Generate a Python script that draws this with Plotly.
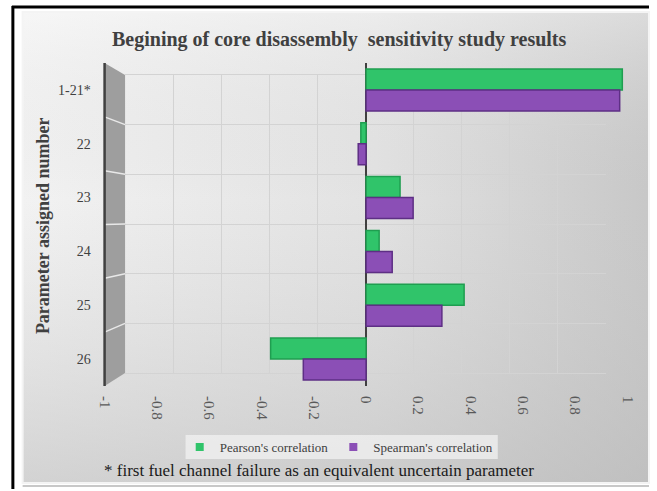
import plotly.graph_objects as go

W, H = 657, 491

categories = ["1-21*", "22", "23", "24", "25", "26"]
pearson = [0.98, -0.02, 0.13, 0.05, 0.375, -0.365]
spearman = [0.97, -0.03, 0.18, 0.10, 0.29, -0.24]
x_ticks = [-1, -0.8, -0.6, -0.4, -0.2, 0, 0.2, 0.4, 0.6, 0.8, 1]
x_tick_labels = ["-1", "-0.8", "-0.6", "-0.4", "-0.2", "0", "0.2", "0.4", "0.6", "0.8", "1"]
series_names = ["Pearson's correlation", "Spearman's correlation"]
series_colors = ["#30c46a", "#8b4fb6"]
series_lines = ["#1f9e50", "#5e2f85"]

SERIF = "Liberation Serif, Times New Roman, serif"


def px(x):
    return x / W


def py(y):
    return 1 - y / H


# plane geometry (pixels)
FRONT_L, FRONT_R, FRONT_T, FRONT_B = 99, 635, 63, 386
BACK_L, BACK_R, BACK_T, BACK_B = 120, 613, 75, 373

fig = go.Figure()

# background gradient panel (axis x/y, full paper, pixel units)
panel_x = [15, 657, 657, 15, 15]
panel_y = [12, 12, 483, 483, 12]
fig.add_trace(go.Scatter(
    x=panel_x, y=panel_y, mode="lines", fill="toself", line=dict(width=0),
    fillgradient=dict(type="horizontal", start=15, stop=657,
                      colorscale=[[0, "#f2f2f2"], [0.55, "#e2e2e2"], [1, "#c6c6c6"]]),
    hoverinfo="skip", showlegend=False, xaxis="x", yaxis="y"))
fig.add_trace(go.Scatter(
    x=panel_x, y=panel_y, mode="lines", fill="toself", line=dict(width=0),
    fillgradient=dict(type="vertical", start=12, stop=483,
                      colorscale=[[0, "rgba(255,255,255,0.35)"], [0.4, "rgba(200,200,200,0)"],
                                  [1, "rgba(185,185,185,0.55)"]]),
    hoverinfo="skip", showlegend=False, xaxis="x", yaxis="y"))

# back plane grid carrier
fig.add_trace(go.Scatter(x=[-1, 1], y=[0, 6], mode="markers", marker=dict(opacity=0),
                         hoverinfo="skip", showlegend=False, xaxis="x2", yaxis="y2"))

# bars on the front plane
for name, vals, col, lc in zip(series_names, [pearson, spearman], series_colors, series_lines):
    fig.add_trace(go.Bar(name=name, y=categories, x=vals, orientation="h", legendgroup=name,
                         showlegend=False,
                         marker=dict(color=col, line=dict(color=lc, width=1.5)),
                         xaxis="x3", yaxis="y3"))
# compact square legend entries
for name, col in zip(series_names, series_colors):
    fig.add_trace(go.Scatter(name=name, x=[None], y=[None], mode="markers", legendgroup=name,
                             marker=dict(symbol="square", size=8, color=col),
                             xaxis="x3", yaxis="y3"))

shapes = []
# outer black frame (top and left)
shapes.append(dict(type="line", xref="paper", yref="paper", x0=px(4), x1=px(657), y0=py(7), y1=py(7),
                   line=dict(color="black", width=3)))
shapes.append(dict(type="line", xref="paper", yref="paper", x0=px(5), x1=px(5), y0=py(6), y1=py(489),
                   line=dict(color="black", width=3)))
# panel edge
shapes.append(dict(type="rect", xref="paper", yref="paper", x0=px(15), x1=px(657), y0=py(483), y1=py(12),
                   line=dict(color="#f4f4f4", width=2)))
shapes.append(dict(type="line", xref="paper", yref="paper", x0=px(15), x1=px(657), y0=py(486), y1=py(486),
                   line=dict(color="#c8c8c8", width=2)))

# floor lines (back bottom -> front bottom)
for v in x_ticks:
    xb = 367 + v * (BACK_R - BACK_L) / 2
    xf = 367 + v * (FRONT_R - FRONT_L) / 2
    shapes.append(dict(type="line", xref="paper", yref="paper", x0=px(xb), x1=px(xf),
                       y0=py(BACK_B), y1=py(FRONT_B), line=dict(color="#d8d8d8", width=1), layer="below"))

# left side wall
shapes.append(dict(type="path", xref="paper", yref="paper",
                   path=f"M {px(FRONT_L)},{py(FRONT_T)} L {px(BACK_L)},{py(BACK_T)} "
                        f"L {px(BACK_L)},{py(BACK_B)} L {px(FRONT_L)},{py(FRONT_B)} Z",
                   fillcolor="#9e9e9e", line=dict(width=0)))
n = len(categories)
for k in range(1, n):
    yf = FRONT_T + k * (FRONT_B - FRONT_T) / n
    yb = BACK_T + k * (BACK_B - BACK_T) / n
    shapes.append(dict(type="line", xref="paper", yref="paper", x0=px(FRONT_L), x1=px(BACK_L),
                       y0=py(yf), y1=py(yb), line=dict(color="#e8e8e8", width=1.5)))
shapes.append(dict(type="line", xref="paper", yref="paper", x0=px(FRONT_L), x1=px(FRONT_L),
                   y0=py(FRONT_T), y1=py(FRONT_B), line=dict(color="#404040", width=2.5)))
# legend box
shapes.append(dict(type="rect", xref="paper", yref="paper", x0=px(182), x1=px(502), y0=py(459), y1=py(435),
                   fillcolor="rgba(242,242,242,0.75)", line=dict(width=0)))

annotations = [
    dict(text="<b>Begining of core disassembly  sensitivity study results</b>", xref="paper", yref="paper",
         x=px(340), y=py(40), showarrow=False, font=dict(family=SERIF, size=20, color="#404040"),
         xanchor="center", yanchor="middle"),
    dict(text="<b>Parameter assigned number</b>", xref="paper", yref="paper", x=px(36), y=py(226),
         showarrow=False, textangle=-90, font=dict(family=SERIF, size=18, color="#404040"),
         xanchor="center", yanchor="middle"),
    dict(text="* first fuel channel failure as an equivalent uncertain parameter", xref="paper", yref="paper",
         x=px(96), y=py(470), showarrow=False, font=dict(family=SERIF, size=17, color="#1a1a1a"),
         xanchor="left", yanchor="middle"),
]

fig.update_layout(
    width=W, height=H, margin=dict(l=0, r=0, t=0, b=0),
    paper_bgcolor="white", plot_bgcolor="rgba(0,0,0,0)",
    barmode="group", bargap=0.22, bargroupgap=0,
    shapes=shapes, annotations=annotations,
    showlegend=True,
    legend=dict(orientation="h", x=px(176), y=py(447), xanchor="left", yanchor="middle",
                bgcolor="rgba(0,0,0,0)", font=dict(family=SERIF, size=13, color="#404040"),
                itemwidth=30, traceorder="normal", tracegroupgap=0),
    xaxis=dict(domain=[0, 1], range=[0, W], visible=False, fixedrange=True),
    yaxis=dict(domain=[0, 1], range=[H, 0], visible=False, fixedrange=True),
    xaxis2=dict(domain=[px(BACK_L), px(BACK_R)], range=[-1, 1], anchor="y2", dtick=0.2, tick0=-1,
                showgrid=True, gridcolor="#d3d3d3", gridwidth=1, zeroline=False, showticklabels=False,
                showline=True, linecolor="#d3d3d3", mirror=True),
    yaxis2=dict(domain=[py(BACK_B), py(BACK_T)], range=[0, 6], anchor="x2", dtick=1,
                showgrid=True, gridcolor="#d3d3d3", gridwidth=1, zeroline=False, showticklabels=False),
    xaxis3=dict(domain=[px(FRONT_L), px(FRONT_R)], range=[-1, 1], anchor="y3",
                tickvals=x_ticks, ticktext=x_tick_labels, tickangle=90,
                tickfont=dict(family=SERIF, size=15, color="#595959"),
                showgrid=False, zeroline=True, zerolinecolor="#404040", zerolinewidth=2,
                ticks="outside", ticklen=6, tickcolor="rgba(0,0,0,0)"),
    yaxis3=dict(domain=[py(FRONT_B), py(FRONT_T)], anchor="x3", type="category",
                categoryorder="array", categoryarray=categories, autorange="reversed",
                tickfont=dict(family=SERIF, size=14, color="#404040"), showgrid=False,
                ticks="outside", ticklen=10, tickcolor="rgba(0,0,0,0)"),
)

fig.write_html("out.html", config={"displayModeBar": False},
               post_script="document.body.style.margin='0';")
